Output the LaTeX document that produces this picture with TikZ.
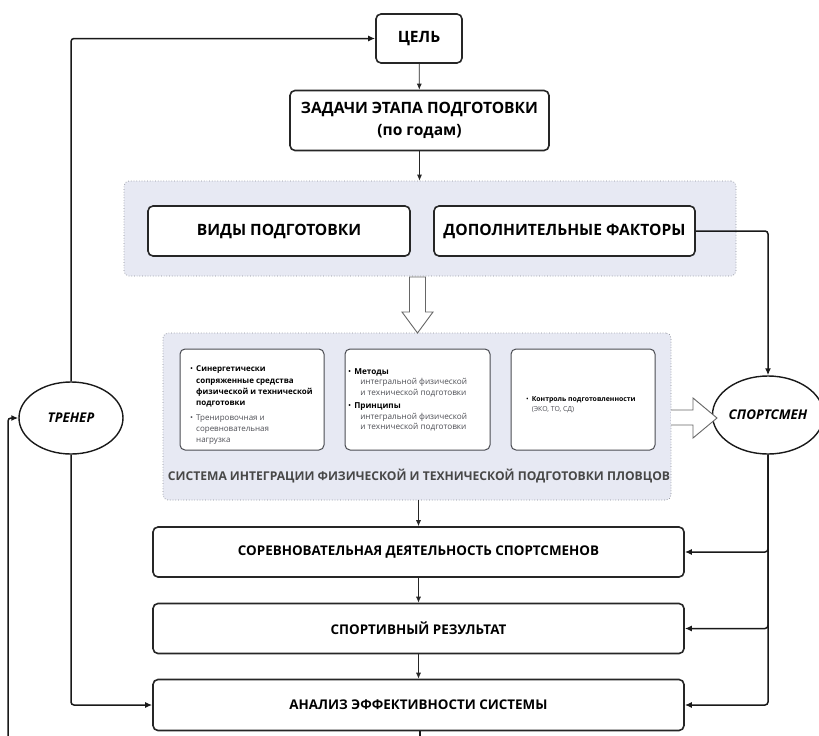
\documentclass[tikz,border=0pt]{standalone}
\usepackage{fontspec}
\setmainfont{Open Sans}
\usetikzlibrary{arrows.meta,shapes.geometric}
\definecolor{panelfill}{HTML}{E7E9F3}
\definecolor{panelline}{HTML}{8A8C96}
\definecolor{innerline}{HTML}{4A4C52}
\definecolor{txtgray}{HTML}{4E4F55}
\tikzset{
  mainbox/.style={draw=black!85, line width=1.6pt, rounded corners=5pt, fill=white, align=center, inner sep=0pt},
  panel/.style={draw=panelline, dotted, line width=0.7pt, rounded corners=5pt, fill=panelfill, inner sep=0pt},
  innerbox/.style={draw=innerline, line width=1pt, rounded corners=5pt, fill=white, inner sep=0pt},
  oval/.style={ellipse, draw=black!90, line width=1.4pt, fill=white, inner sep=0pt, font=\bfseries\itshape\fontsize{13.4}{15}\selectfont},
  link/.style={draw=black!90, line width=1.5pt, rounded corners=3pt, -{Latex[length=7pt,width=6pt]}},
  thin/.style={draw=black!85, line width=0.8pt, -{Latex[length=6pt,width=5pt]}},
  hollow/.style={draw=black!60, line width=0.9pt, fill=white, line join=miter},
  bigtxt/.style={font=\bfseries\fontsize{15.6}{22}\selectfont},
  lowtxt/.style={font=\bfseries\fontsize{13.4}{15}\selectfont},
  small/.style={align=left, inner sep=0pt, anchor=west}
}
\begin{document}
\begin{tikzpicture}[x=1pt,y=-1pt]
\useasboundingbox (0,0) rectangle (819,736);
\fill[white] (0,0) rectangle (819,736);

% panels
\node[panel, minimum width=612pt, minimum height=95pt] (p1) at (430,228.5) {};
\node[panel, minimum width=508pt, minimum height=167pt] (p2) at (417,416.5) {};

% top boxes
\node[mainbox, bigtxt, minimum width=86pt, minimum height=49pt] (goal) at (419,38.5) {ЦЕЛЬ};
\node[mainbox, bigtxt, minimum width=259pt, minimum height=60pt] (tasks) at (419.5,120.5) {ЗАДАЧИ ЭТАПА ПОДГОТОВКИ\\(по годам)};
\node[mainbox, bigtxt, minimum width=262pt, minimum height=50pt] (kinds) at (279,231) {ВИДЫ ПОДГОТОВКИ};
\node[mainbox, bigtxt, minimum width=261pt, minimum height=50pt] (extra) at (564.5,231) {ДОПОЛНИТЕЛЬНЫЕ ФАКТОРЫ};

% inner boxes
\node[innerbox, minimum width=144pt, minimum height=101pt] (ba) at (252,399.5) {};
\node[innerbox, minimum width=145pt, minimum height=101pt] (bb) at (417.5,399.5) {};
\node[innerbox, minimum width=144pt, minimum height=101pt] (bc) at (583,399.5) {};

\node[small, font=\fontsize{8.0}{11.2}\selectfont] (ta) at (190,405) {%
\begin{tabular}{@{}l@{\hspace{3pt}}l@{}}
•&\bfseries Синергетически\\
 &\bfseries сопряженные средства\\
 &\bfseries физической и технической\\
 &\bfseries подготовки\\[3.5pt]
{\color{txtgray}•}&\color{txtgray}Тренировочная и\\
 &\color{txtgray}соревновательная\\
 &\color{txtgray}нагрузка
\end{tabular}};
\node[small, font=\fontsize{8.2}{10.4}\selectfont] (tb) at (348,400) {%
\begin{tabular}{@{}l@{\hspace{3pt}}l@{}}
•&\bfseries Методы\\
 &\hspace{6pt}\color{txtgray}интегральной физической\\
 &\hspace{6pt}\color{txtgray}и технической подготовки\\[3pt]
•&\bfseries Принципы\\
 &\hspace{6pt}\color{txtgray}интегральной физической\\
 &\hspace{6pt}\color{txtgray}и технической подготовки
\end{tabular}};
\node[small, font=\fontsize{6.9}{10}\selectfont] (tc) at (526,404) {%
\begin{tabular}{@{}l@{\hspace{3pt}}l@{}}
•&\bfseries Контроль подготовленности\\
 &\color{txtgray}(ЭКО, ТО, СД)
\end{tabular}};

\node[font=\bfseries\fontsize{12.1}{15}\selectfont, text=black!72, inner sep=0pt] (cap) at (419,476) {СИСТЕМА ИНТЕГРАЦИИ ФИЗИЧЕСКОЙ И ТЕХНИЧЕСКОЙ ПОДГОТОВКИ ПЛОВЦОВ};

% lower boxes
\node[mainbox, lowtxt, minimum width=531pt, minimum height=50pt] (comp) at (418.5,552) {СОРЕВНОВАТЕЛЬНАЯ ДЕЯТЕЛЬНОСТЬ СПОРТСМЕНОВ};
\node[mainbox, lowtxt, minimum width=531pt, minimum height=50pt] (res) at (418.5,628.5) {СПОРТИВНЫЙ РЕЗУЛЬТАТ};
\node[mainbox, lowtxt, minimum width=531pt, minimum height=51pt] (anal) at (418.5,705) {АНАЛИЗ ЭФФЕКТИВНОСТИ СИСТЕМЫ};

% ovals
\node[oval, minimum width=104pt, minimum height=72pt] (coach) at (71,418) {ТРЕНЕР};
\node[oval, minimum width=102pt, minimum height=78pt] (ath) at (768,415) {СПОРТСМЕН};

% hollow arrows
\draw[hollow] (409.5,277) -- (425.5,277) -- (425.5,312) -- (433,312) -- (417.5,333) -- (402,312) -- (409.5,312) -- cycle;
\draw[hollow] (671,410) -- (693,410) -- (693,398) -- (717,418) -- (693,438) -- (693,425) -- (671,425);

% vertical thin connectors
\draw[thin] (goal) -- (tasks);
\draw[thin] (tasks.south) -- (tasks.south |- p1.north);
\draw[thin] (p2.south -| comp.north) -- (comp.north);
\draw[thin] (comp) -- (res);
\draw[thin] (res) -- (anal);

% outer connectors
\coordinate (fbbot) at (8,736);
\coordinate (analbot) at (420,736);
\draw[link] (coach.north) |- (goal.west);
\draw[link] (coach.south) |- (anal.west);
\draw[link] (fbbot) |- (coach.west);
\draw[draw=black!90, line width=1.5pt] (anal.south -| analbot) -- (analbot);
\draw[link] (extra.east) -| (ath.north);
\draw[link] (ath.south) |- (comp.east);
\draw[link] (ath.south) |- (res.east);
\draw[link] (ath.south) |- (anal.east);
\end{tikzpicture}
\end{document}
